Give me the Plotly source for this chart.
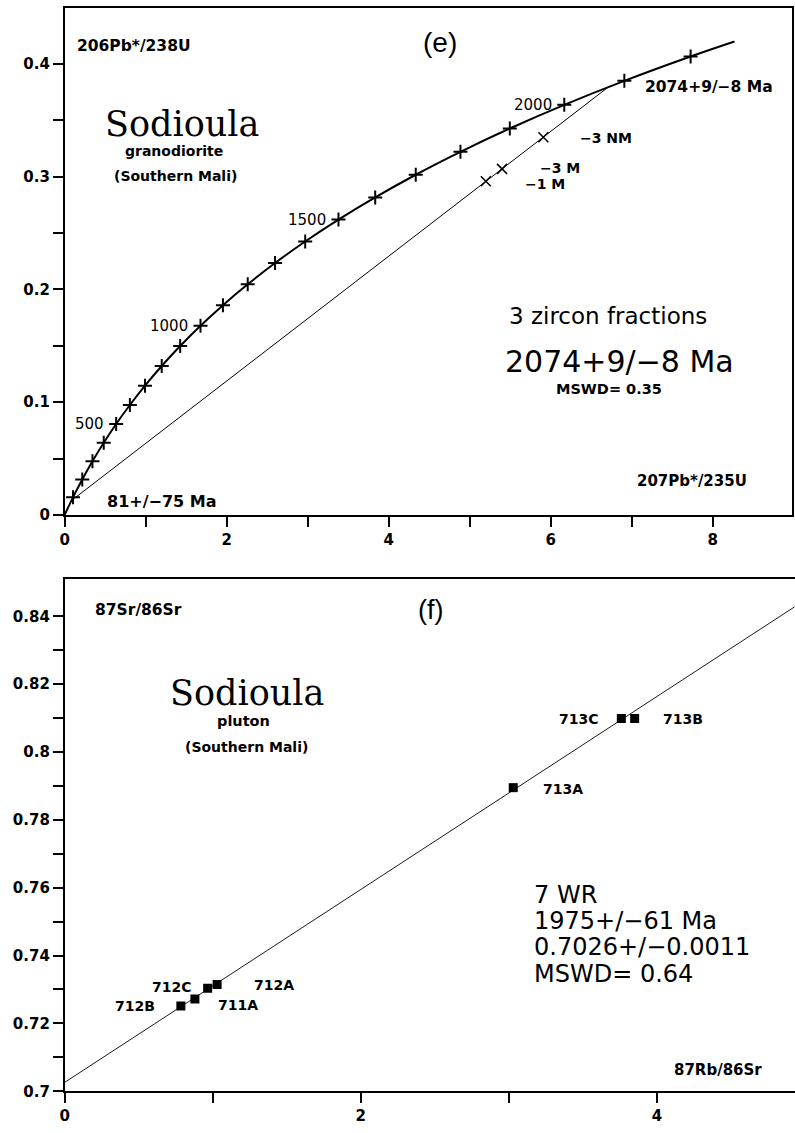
import plotly.graph_objects as go

# ---------------- Panel (e): U-Pb concordia ----------------
conc_age = [100, 200, 300, 400, 500, 600, 700, 800, 900, 1000, 1100,
            1200, 1300, 1400, 1500, 1600, 1700, 1800, 1900, 2000, 2100, 2200]
conc_x = [0.1035, 0.2177, 0.3437, 0.4828, 0.6362, 0.8056, 0.9926, 1.1988,
          1.4264, 1.6775, 1.9546, 2.2603, 2.5978, 2.9700, 3.3809, 3.8343,
          4.3346, 4.8867, 5.4959, 6.1681, 6.9098, 7.7283]
conc_y = [0.0156, 0.0315, 0.0476, 0.0640, 0.0807, 0.0975, 0.1147, 0.1321,
          0.1498, 0.1678, 0.1861, 0.2046, 0.2235, 0.2426, 0.2620, 0.2817,
          0.3018, 0.3221, 0.3428, 0.3638, 0.3851, 0.4067]
curve_start = (0.0, 0.0)
curve_end = (8.27, 0.420)

age_labels = [500, 1000, 1500, 2000]

frac_names = ["\u22121 M", "\u22123 M", "\u22123 NM"]
frac_x = [5.20, 5.40, 5.91]
frac_y = [0.296, 0.307, 0.335]

discordia_x = [0.084, 6.71]
discordia_y = [0.0127, 0.3795]

# ---------------- Panel (f): Rb-Sr isochron ----------------
samples = ["712B", "711A", "712C", "712A", "713A", "713C", "713B"]
rb_sr = [0.785, 0.88, 0.966, 1.03, 3.03, 3.76, 3.85]
sr_sr = [0.7251, 0.7272, 0.7304, 0.7315, 0.7895, 0.8099, 0.8099]

iso_x = [0.0, 4.93]
iso_y = [0.7026, 0.8428]

SANS = "DejaVu Sans, Verdana, sans-serif"
SERIF = "DejaVu Serif, serif"

fig = go.Figure()

# concordia curve
fig.add_trace(go.Scatter(
    x=[curve_start[0]] + conc_x + [curve_end[0]],
    y=[curve_start[1]] + conc_y + [curve_end[1]],
    mode="lines", line=dict(color="black", width=2, shape="spline"),
    xaxis="x", yaxis="y", showlegend=False, hoverinfo="skip"))
# age ticks on concordia
fig.add_trace(go.Scatter(
    x=conc_x, y=conc_y, mode="markers",
    marker=dict(symbol="cross-thin", size=10, line=dict(color="black", width=2)),
    xaxis="x", yaxis="y", showlegend=False, text=conc_age))
# discordia
fig.add_trace(go.Scatter(
    x=discordia_x, y=discordia_y, mode="lines",
    line=dict(color="black", width=1),
    xaxis="x", yaxis="y", showlegend=False, hoverinfo="skip"))
# zircon fractions
fig.add_trace(go.Scatter(
    x=frac_x, y=frac_y, mode="markers",
    marker=dict(symbol="x-thin", size=10, line=dict(color="black", width=1.5)),
    xaxis="x", yaxis="y", showlegend=False, text=frac_names))

# isochron
fig.add_trace(go.Scatter(
    x=iso_x, y=iso_y, mode="lines",
    line=dict(color="black", width=0.9),
    xaxis="x2", yaxis="y2", showlegend=False, hoverinfo="skip"))
fig.add_trace(go.Scatter(
    x=rb_sr, y=sr_sr, mode="markers",
    marker=dict(symbol="square", size=9, color="black"),
    xaxis="x2", yaxis="y2", showlegend=False, text=samples))

ann = []


def A(text, x, y, ax="x", size=15, anchor="center", family=SANS, weight="bold"):
    ann.append(dict(text=text, x=x, y=y, xref=ax, yref=("y" if ax == "x" else "y2"),
                    showarrow=False, xanchor=anchor, yanchor="middle",
                    font=dict(family=family, size=size, color="black", weight=weight)))


# panel (e) texts
A("206Pb*/238U", 0.86, 0.4159, size=15.5)
A("(e)", 4.64, 0.4194, size=28, weight="normal", family="Liberation Sans, Arial, sans-serif")
A("Sodioula", 1.45, 0.347, size=35, family=SERIF, weight="normal")
A("granodiorite", 1.35, 0.3225, size=14)
A("(Southern Mali)", 1.374, 0.3004, size=14)
for a in age_labels:
    i = conc_age.index(a)
    A(str(a), conc_x[i] - 0.13, conc_y[i], size=15, anchor="right", weight="normal")
A("2074+9/\u22128 Ma", 7.14, 0.3797, size=15.5, anchor="left")
A(frac_names[2], 6.34, 0.3348, size=14, anchor="left")
A(frac_names[1], 5.85, 0.3075, size=14, anchor="left")
A(frac_names[0], 5.66, 0.2934, size=14, anchor="left")
A("3 zircon fractions", 6.71, 0.1762, size=23, weight="normal")
A("2074+9/\u22128 Ma", 6.85, 0.1360, size=30, weight="normal")
A("MSWD= 0.35", 6.72, 0.1118, size=14.5)
A("207Pb*/235U", 7.75, 0.030, size=15)
A("81+/\u221275 Ma", 1.19, 0.0115, size=16)

# panel (f) texts
A("87Sr/86Sr", 0.497, 0.8418, ax="x2", size=15.5)
A("(f)", 2.47, 0.8418, ax="x2", size=27, weight="normal", family="Liberation Sans, Arial, sans-serif")
A("Sodioula", 1.235, 0.8175, ax="x2", size=35, family=SERIF, weight="normal")
A("pluton", 1.208, 0.8091, ax="x2", size=14.5)
A("(Southern Mali)", 1.228, 0.8015, ax="x2", size=14)
samp_lab = {"712B": (0.624, 0.7251, "right"), "712C": (0.725, 0.7307, "center"),
            "711A": (1.168, 0.7254, "center"), "712A": (1.416, 0.7313, "center"),
            "713A": (3.215, 0.7892, "left"), "713C": (3.624, 0.8096, "right"),
            "713B": (4.027, 0.8096, "left")}
for s in samples:
    lx, ly, anc = samp_lab[s]
    A(s, lx, ly, ax="x2", anchor=anc, size=14)
A("7 WR", 3.154, 0.7579, ax="x2", size=24, anchor="left", weight="normal")
A("1975+/\u221261 Ma", 3.154, 0.7503, ax="x2", size=24, anchor="left", weight="normal")
A("0.7026+/\u22120.0011", 3.154, 0.7424, ax="x2", size=24, anchor="left", weight="normal")
A("MSWD= 0.64", 3.154, 0.7345, ax="x2", size=24, anchor="left", weight="normal")
A("87Rb/86Sr", 4.416, 0.7064, ax="x2", size=15)

tickfont = dict(family=SANS, size=15, color="black", weight="bold")

y1_vals = [0, 0.05, 0.1, 0.15, 0.2, 0.25, 0.3, 0.35, 0.4]
y1_text = ["0", "", "0.1", "", "0.2", "", "0.3", "", "0.4"]
x1_vals = [0, 1, 2, 3, 4, 5, 6, 7, 8]
x1_text = ["0", "", "2", "", "4", "", "6", "", "8"]
y2_vals = [0.70, 0.71, 0.72, 0.73, 0.74, 0.75, 0.76, 0.77, 0.78, 0.79, 0.80, 0.81, 0.82, 0.83, 0.84]
y2_text = ["0.7", "", "0.72", "", "0.74", "", "0.76", "", "0.78", "", "0.8", "", "0.82", "", "0.84"]
x2_vals = [0, 1, 2, 3, 4]
x2_text = ["0", "", "2", "", "4"]

common = dict(showgrid=False, zeroline=False, showline=True, linecolor="black",
              linewidth=1.5, ticks="outside", ticklen=10, tickwidth=1.5,
              tickcolor="black", tickfont=tickfont)

fig.update_layout(
    width=795, height=1133,
    margin=dict(l=0, r=0, t=0, b=0),
    paper_bgcolor="white", plot_bgcolor="white",
    showlegend=False,
    xaxis=dict(domain=[60 / 795, 792 / 795], range=[0, 8.98], anchor="y",
               tickmode="array", tickvals=x1_vals, ticktext=x1_text, mirror=True, **common),
    yaxis=dict(domain=[0.5419, 0.99294], range=[0, 0.4498], anchor="x",
               tickmode="array", tickvals=y1_vals, ticktext=y1_text, mirror=True, **common),
    xaxis2=dict(domain=[60 / 795, 1.0], range=[0, 4.933], anchor="y2",
                tickmode="array", tickvals=x2_vals, ticktext=x2_text, mirror=True, **common),
    yaxis2=dict(domain=[0.02913, 0.48455], range=[0.7, 0.8509], anchor="x2",
                tickmode="array", tickvals=y2_vals, ticktext=y2_text, mirror=False, **common),
    annotations=ann,
)

fig.write_html("out.html", config={"displayModeBar": False},
               post_script="document.body.style.margin='0';document.body.style.overflow='hidden';")
